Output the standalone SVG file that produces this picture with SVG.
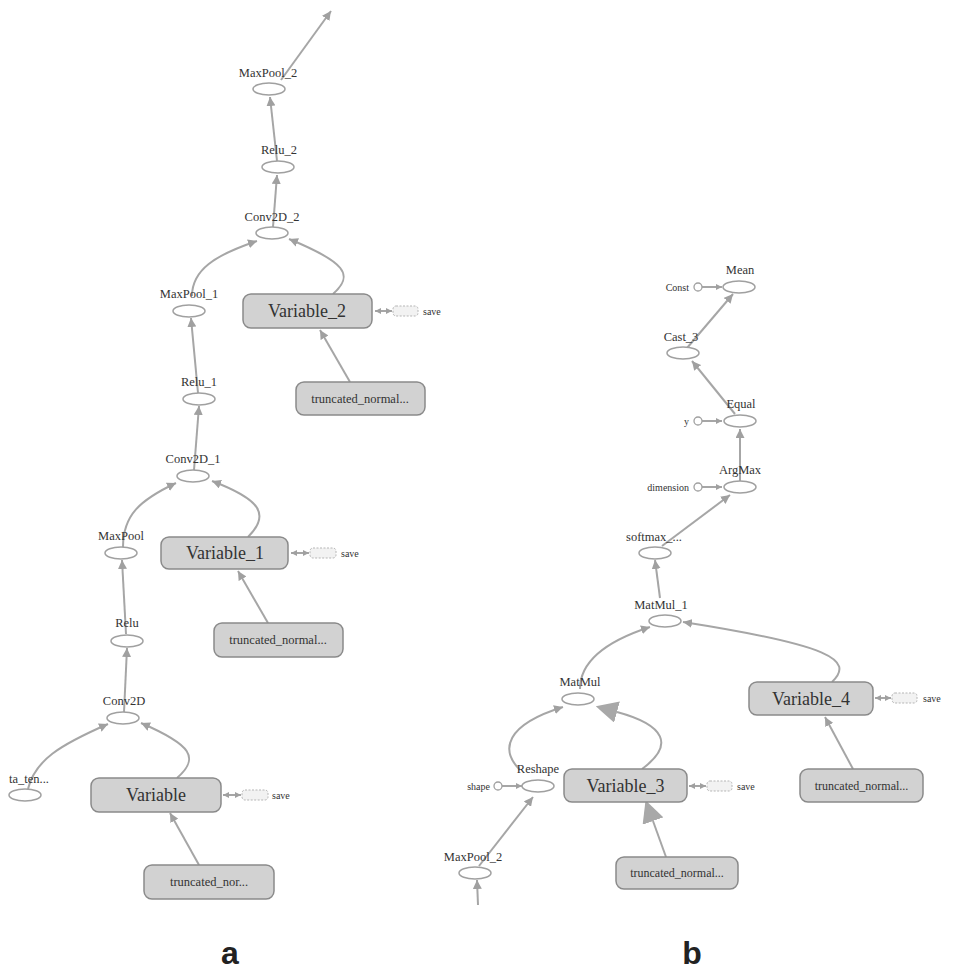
<svg xmlns="http://www.w3.org/2000/svg" width="967" height="973" viewBox="0 0 967 973">
<style>
.e{fill:#fff;stroke:#a0a0a0;stroke-width:1.5}
.b{fill:#d2d2d2;stroke:#8a8a8a;stroke-width:1.5}
.l{fill:none;stroke:#a6a6a6;stroke-width:2}
.t{font-family:"Liberation Serif","Times New Roman",serif;fill:#333;text-anchor:middle}
.n{font-size:12.5px}
.s{font-size:10px}
.v{font-size:18px;dominant-baseline:central}
.tn{font-size:12.5px;dominant-baseline:central}
.sv{fill:#f2f2f2;stroke:#b5b5b5;stroke-width:1;stroke-dasharray:2 1.5}
.c{fill:#fff;stroke:#a0a0a0;stroke-width:1.3}
.p{font-family:"Liberation Sans",Arial,sans-serif;font-weight:bold;font-size:32px;fill:#222;text-anchor:middle}
</style>
<defs>
<marker id="a" viewBox="0 0 10 10" refX="10" refY="5" markerWidth="9" markerHeight="9" markerUnits="userSpaceOnUse" orient="auto"><path d="M0,0 L10,5 L0,10 z" fill="#a0a0a0"/></marker>
<marker id="sm" viewBox="0 0 10 10" refX="10" refY="5" markerWidth="6" markerHeight="6" markerUnits="userSpaceOnUse" orient="auto-start-reverse"><path d="M0,0 L10,5 L0,10 z" fill="#a0a0a0"/></marker>
<marker id="big" viewBox="0 0 10 10" refX="0" refY="5" markerWidth="22" markerHeight="22" markerUnits="userSpaceOnUse" orient="auto"><path d="M0,0 L10,5 L0,10 z" fill="#a8a8a8"/></marker>
</defs>
<rect width="967" height="973" fill="#fff"/>
<g id="connectors">
<path class="l" d="M281 80 L331 11" marker-end="url(#a)"/>
<path class="l" d="M277 161 L270 97" marker-end="url(#a)"/>
<path class="l" d="M273 227 L277 175" marker-end="url(#a)"/>
<path class="l" d="M192 296 C192 270 215 255 257 241" marker-end="url(#a)"/>
<path class="l" d="M333 294 C355 275 345 262 289 239" marker-end="url(#a)"/>
<path class="l" d="M350 382 L320 330" marker-end="url(#a)"/>
<path class="l" d="M198 393 L191 318" marker-end="url(#a)"/>
<path class="l" d="M194 470 L199 406" marker-end="url(#a)"/>
<path class="l" d="M123 547 C123 515 140 500 176 483" marker-end="url(#a)"/>
<path class="l" d="M248 537 C270 515 262 500 212 481" marker-end="url(#a)"/>
<path class="l" d="M268 623 L238 571" marker-end="url(#a)"/>
<path class="l" d="M126 634 L122 560" marker-end="url(#a)"/>
<path class="l" d="M124 712 L127 648" marker-end="url(#a)"/>
<path class="l" d="M28 789 C35 760 60 745 108 724" marker-end="url(#a)"/>
<path class="l" d="M177 778 C200 758 192 745 141 723" marker-end="url(#a)"/>
<path class="l" d="M199 865 L170 813" marker-end="url(#a)"/>
<path class="l" d="M375 311 L392 311" stroke-width="1.5" marker-start="url(#sm)" marker-end="url(#sm)"/>
<path class="l" d="M291 553 L309 553" stroke-width="1.5" marker-start="url(#sm)" marker-end="url(#sm)"/>
<path class="l" d="M223 795 L241 795" stroke-width="1.5" marker-start="url(#sm)" marker-end="url(#sm)"/>
<path class="l" d="M702 287 L722 287" stroke-width="1.5" marker-end="url(#sm)"/>
<path class="l" d="M687 348 L733 294" stroke-width="3.5" marker-end="url(#a)"/>
<path class="l" d="M735 414 L692 361" stroke-width="4" marker-end="url(#a)"/>
<path class="l" d="M702 421 L722 421" stroke-width="1.5" marker-end="url(#sm)"/>
<path class="l" d="M740 481 L740 429" stroke-width="1.2" marker-end="url(#a)"/>
<path class="l" d="M702 487 L722 487" stroke-width="1.5" marker-end="url(#sm)"/>
<path class="l" d="M662 546 L730 495" stroke-width="1.5" marker-end="url(#a)"/>
<path class="l" d="M660 598 L655 560" stroke-width="1.5" marker-end="url(#a)"/>
<path class="l" d="M580 689 C580 660 610 640 650 627" stroke-width="1.5" marker-end="url(#a)"/>
<path class="l" d="M832 682 C855 660 830 645 683 622" stroke-width="3" marker-end="url(#a)"/>
<path class="l" d="M853 769 L825 717" marker-end="url(#a)"/>
<path class="l" d="M520 770 C500 750 505 725 563 707" stroke-width="1.5" marker-end="url(#a)"/>
<path class="l" d="M642 769 C675 745 665 725 617 712" stroke="#ababab" stroke-width="8" marker-end="url(#big)"/>
<path class="l" d="M502 786 L522 786" stroke-width="1.5" marker-end="url(#sm)"/>
<path class="l" d="M479 866 L533 797" stroke-width="1.5" marker-end="url(#a)"/>
<path class="l" d="M478 905 L477 880" marker-end="url(#a)"/>
<path class="l" d="M666 857 L653 821" stroke="#ababab" stroke-width="8" marker-end="url(#big)"/>
<path class="l" d="M875 698 L891 698" stroke-width="1.5" marker-start="url(#sm)" marker-end="url(#sm)"/>
<path class="l" d="M689 786 L706 786" stroke-width="1.5" marker-start="url(#sm)" marker-end="url(#sm)"/>
</g>
<g id="MaxPool_2a"><ellipse class="e" cx="269" cy="89" rx="16" ry="6"/><text class="t n" x="268" y="77">MaxPool_2</text></g>
<g id="Relu_2"><ellipse class="e" cx="278" cy="167" rx="16" ry="6"/><text class="t n" x="279" y="154">Relu_2</text></g>
<g id="Conv2D_2"><ellipse class="e" cx="272" cy="233" rx="16" ry="6"/><text class="t n" x="272" y="221">Conv2D_2</text></g>
<g id="MaxPool_1"><ellipse class="e" cx="189" cy="311" rx="16" ry="6"/><text class="t n" x="189" y="298">MaxPool_1</text></g>
<g id="Variable_2"><rect class="b" x="243" y="294" width="129" height="34" rx="8"/><text class="t v" x="307" y="311">Variable_2</text></g>
<g id="save_2"><rect class="sv" x="393" y="306" width="25" height="10" rx="3"/><text class="t s" x="423" y="314.5" style="text-anchor:start">save</text></g>
<g id="truncated_2"><rect class="b" x="296" y="382" width="129" height="33" rx="8"/><text class="t tn" x="360" y="398.5">truncated_normal...</text></g>
<g id="Relu_1"><ellipse class="e" cx="199" cy="399" rx="16" ry="6"/><text class="t n" x="199" y="386">Relu_1</text></g>
<g id="Conv2D_1"><ellipse class="e" cx="193" cy="476" rx="16" ry="6"/><text class="t n" x="193" y="463">Conv2D_1</text></g>
<g id="MaxPool"><ellipse class="e" cx="121" cy="553" rx="16" ry="6"/><text class="t n" x="121" y="540">MaxPool</text></g>
<g id="Variable_1"><rect class="b" x="161" y="537" width="127" height="32" rx="8"/><text class="t v" x="225" y="553">Variable_1</text></g>
<g id="save_1"><rect class="sv" x="310" y="548" width="26" height="10" rx="3"/><text class="t s" x="341" y="556.5" style="text-anchor:start">save</text></g>
<g id="truncated_1"><rect class="b" x="214" y="623" width="129" height="34" rx="8"/><text class="t tn" x="278" y="640">truncated_normal...</text></g>
<g id="Relu"><ellipse class="e" cx="127" cy="641" rx="16" ry="6"/><text class="t n" x="127" y="627">Relu</text></g>
<g id="Conv2D"><ellipse class="e" cx="123" cy="718" rx="16" ry="6"/><text class="t n" x="124" y="705">Conv2D</text></g>
<g id="data_ten"><ellipse class="e" cx="25" cy="795" rx="16" ry="6"/><text class="t n" x="9" y="783" style="text-anchor:start">ta_ten...</text></g>
<g id="Variable"><rect class="b" x="91" y="778" width="130" height="34" rx="8"/><text class="t v" x="156" y="795">Variable</text></g>
<g id="save_0"><rect class="sv" x="242" y="790" width="26" height="10" rx="3"/><text class="t s" x="272" y="798.5" style="text-anchor:start">save</text></g>
<g id="truncated_0"><rect class="b" x="144" y="865" width="130" height="34" rx="8"/><text class="t tn" x="209" y="882">truncated_nor...</text></g>
<g id="label_a"><text class="p" x="230" y="964">a</text></g>
<g id="Mean"><ellipse class="e" cx="739" cy="287" rx="16" ry="6"/><text class="t n" x="740" y="274">Mean</text></g>
<g id="Const"><circle class="c" cx="698" cy="287" r="4"/><text class="t s" x="689" y="290.5" style="text-anchor:end">Const</text></g>
<g id="Cast_3"><ellipse class="e" cx="683" cy="353" rx="16" ry="6"/><text class="t n" x="681" y="341">Cast_3</text></g>
<g id="Equal"><ellipse class="e" cx="740" cy="421" rx="16" ry="6"/><text class="t n" x="741" y="408">Equal</text></g>
<g id="y"><circle class="c" cx="698" cy="421" r="4"/><text class="t s" x="689" y="424.5" style="text-anchor:end">y</text></g>
<g id="ArgMax"><ellipse class="e" cx="740" cy="487" rx="16" ry="6"/><text class="t n" x="740" y="474">ArgMax</text></g>
<g id="dimension"><circle class="c" cx="698" cy="487" r="4"/><text class="t s" x="689" y="490.5" style="text-anchor:end">dimension</text></g>
<g id="softmax"><ellipse class="e" cx="655" cy="553" rx="16" ry="6"/><text class="t n" x="654" y="541">softmax_...</text></g>
<g id="MatMul_1"><ellipse class="e" cx="665" cy="621" rx="16" ry="6"/><text class="t n" x="661" y="609">MatMul_1</text></g>
<g id="MatMul"><ellipse class="e" cx="578" cy="699" rx="16" ry="6"/><text class="t n" x="580" y="686">MatMul</text></g>
<g id="Variable_4"><rect class="b" x="749" y="682" width="124" height="33" rx="8"/><text class="t v" x="811" y="698.5">Variable_4</text></g>
<g id="save_4"><rect class="sv" x="892" y="693" width="25" height="10" rx="3"/><text class="t s" x="923" y="701.5" style="text-anchor:start">save</text></g>
<g id="truncated_4"><rect class="b" x="800" y="769" width="123" height="33" rx="8"/><text class="t tn" x="861.5" y="785.5" style="font-size:12px">truncated_normal...</text></g>
<g id="Reshape"><ellipse class="e" cx="538" cy="786" rx="16" ry="6"/><text class="t n" x="538" y="773">Reshape</text></g>
<g id="shape"><circle class="c" cx="498" cy="786" r="4"/><text class="t s" x="490" y="789.5" style="text-anchor:end">shape</text></g>
<g id="Variable_3"><rect class="b" x="564" y="769" width="123" height="33" rx="8"/><text class="t v" x="625.5" y="785.5">Variable_3</text></g>
<g id="save_3"><rect class="sv" x="707" y="781" width="25" height="10" rx="3"/><text class="t s" x="737" y="789.5" style="text-anchor:start">save</text></g>
<g id="MaxPool_2b"><ellipse class="e" cx="475" cy="873" rx="16" ry="6"/><text class="t n" x="473" y="861">MaxPool_2</text></g>
<g id="truncated_3"><rect class="b" x="616" y="857" width="122" height="32" rx="8"/><text class="t tn" x="677" y="873" style="font-size:12px">truncated_normal...</text></g>
<g id="label_b"><text class="p" x="692" y="964">b</text></g>
</svg>
